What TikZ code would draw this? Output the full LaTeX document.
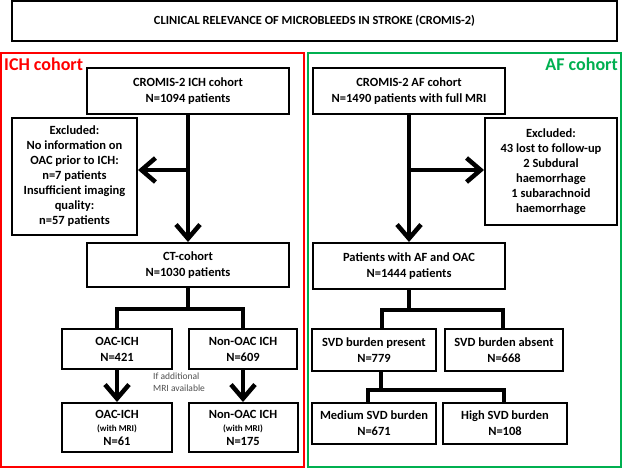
\documentclass[tikz,border=0pt]{standalone}
\usepackage{fontspec}
\setmainfont{Carlito}
\usetikzlibrary{arrows.meta}
\definecolor{ichred}{RGB}{255,0,0}
\definecolor{afgreen}{RGB}{0,176,80}
\begin{document}
\begin{tikzpicture}[x=1pt,y=-1pt,
  box/.style={draw=black,line width=2pt,fill=white,align=center,inner sep=1pt,
    font=\fontsize{12.5}{16}\selectfont\bfseries},
  conn/.style={line width=4.5pt,line join=miter},
  arr/.style={conn,-{Straight Barb[length=14pt,width=24pt,line width=4.5pt]}}]
\useasboundingbox[fill=white] (0,0) rectangle (623,468);
% cohort frames
\draw[ichred,line width=2pt] (1,53) rectangle (304,467);
\draw[afgreen,line width=2pt] (308,53) rectangle (621,467);
\node[anchor=west,text=ichred,font=\fontsize{18}{20}\selectfont\bfseries,inner sep=0pt] (ichlab) at (4,64) {ICH cohort};
\node[anchor=east,text=afgreen,font=\fontsize{18}{20}\selectfont\bfseries,inner sep=0pt] (aflab) at (618,64) {AF cohort};
% title
\node[box,minimum width=605,minimum height=40,font=\fontsize{12.4}{14}\selectfont\bfseries] (title) at (314.5,21) {CLINICAL RELEVANCE OF MICROBLEEDS IN STROKE (CROMIS-2)};
% ICH side
\node[box,minimum width=202,minimum height=46] (ich) at (188,91) {CROMIS-2 ICH cohort\\N=1094 patients};
\node[box,minimum width=125,minimum height=117,font=\fontsize{12.5}{15}\selectfont\bfseries] (exL) at (74.5,176.5) {Excluded:\\No information on\\OAC prior to ICH:\\n=7 patients\\Insufficient imaging\\quality:\\n=57 patients};
\node[box,minimum width=202,minimum height=44] (ct) at (188,265) {CT-cohort\\N=1030 patients};
\node[box,minimum width=110,minimum height=40] (oac) at (117,349) {OAC-ICH\\N=421};
\node[box,minimum width=108,minimum height=40] (non) at (243,349) {Non-OAC ICH\\N=609};
\node[box,minimum width=110,minimum height=49] (oacm) at (117,427.5) {OAC-ICH\\[-3pt]{\fontsize{9}{11}\selectfont (with MRI)}\\[-2pt]N=61};
\node[box,minimum width=109,minimum height=49] (nonm) at (243,427.5) {Non-OAC ICH\\[-3pt]{\fontsize{9}{11}\selectfont (with MRI)}\\[-2pt]N=175};
\node[anchor=north west,align=left,text={rgb,255:red,80;green,80;blue,80},font=\fontsize{9.5}{12}\selectfont,inner sep=0pt] (mrinote) at (153,373) {If additional\\MRI available};
% AF side
\node[box,minimum width=192,minimum height=46] (af) at (409,91) {CROMIS-2 AF cohort\\N=1490 patients with full MRI};
\node[box,minimum width=132,minimum height=107,font=\fontsize{12.5}{15}\selectfont\bfseries] (exR) at (551,171.5) {Excluded:\\43 lost to follow-up\\2 Subdural\\haemorrhage\\1 subarachnoid\\haemorrhage};
\node[box,minimum width=192,minimum height=46] (pat) at (409,266) {Patients with AF and OAC\\N=1444 patients};
\node[box,minimum width=124,minimum height=42] (svdp) at (374,350) {SVD burden present\\N=779};
\node[box,minimum width=118,minimum height=42] (svda) at (504,350) {SVD burden absent\\N=668};
\node[box,minimum width=124,minimum height=41] (med) at (374,423.5) {Medium SVD burden\\N=671};
\node[box,minimum width=124,minimum height=41] (high) at (505,423.5) {High SVD burden\\N=108};
% connectors ICH
\coordinate (jx) at (188,170);
\coordinate (jL) at (188,309);
\draw[arr] (ich.south) -- (ct.north);
\draw[arr] (jx) -- (exL.east |- jx);
\draw[conn] (ct.south) -- (jL);
\draw[conn] (oac.north) |- (jL) -| (non.north);
\draw[arr] (oac.south) -- (oacm.north);
\draw[arr] (non.south) -- (nonm.north);
% connectors AF
\coordinate (jy) at (409,170);
\coordinate (jR) at (409,310);
\coordinate (jS) at (381,390);
\draw[arr] (af.south) -- (pat.north);
\draw[arr] (jy) -- (exR.west |- jy);
\draw[conn] (pat.south) -- (jR);
\draw[conn] ([xshift=8pt]svdp.north) |- (jR) -| ([xshift=-1pt]svda.north);
\draw[conn] ([xshift=7pt]svdp.south) -- (jS);
\draw[conn] ([xshift=-6pt]med.north) |- (jS) -| ([xshift=-1pt]high.north);
\end{tikzpicture}
\end{document}
